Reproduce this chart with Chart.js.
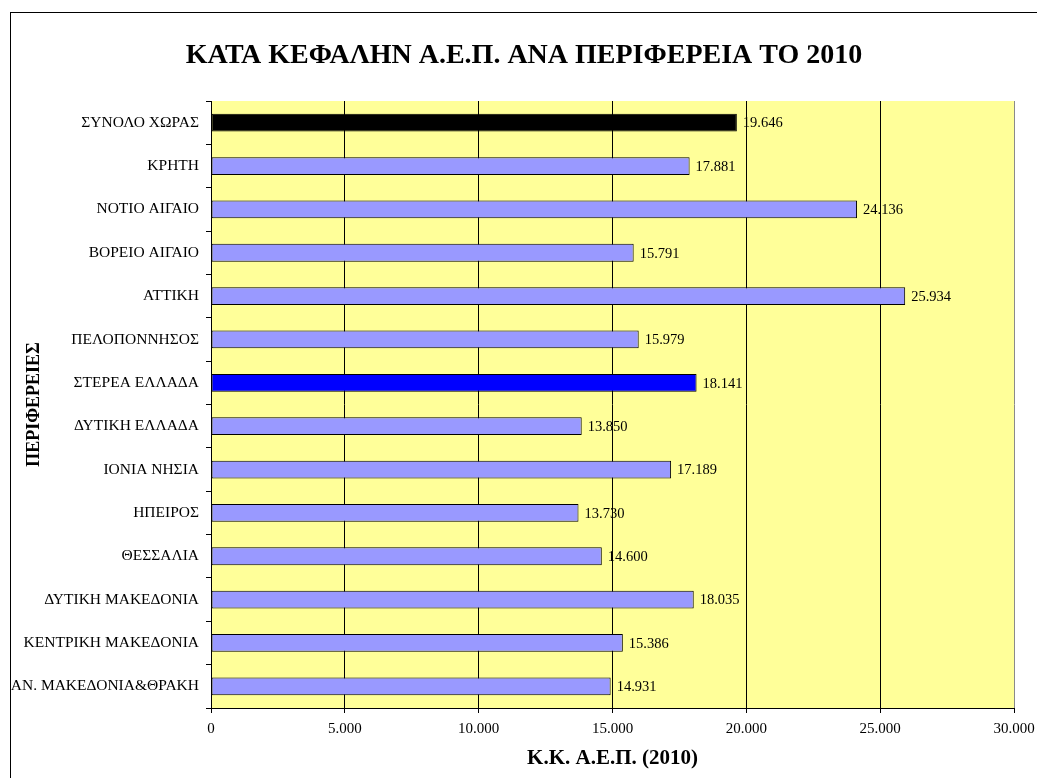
<!DOCTYPE html>
<html>
<head>
<meta charset="utf-8">
<script src="https://cdn.jsdelivr.net/npm/chart.js@4.4.1/dist/chart.umd.min.js"></script>
<style>
html,body{margin:0;padding:0;background:#fff;}
canvas{display:block;}
</style>
</head>
<body>
<canvas id="c" width="1037" height="778"></canvas>
<script>
const chartTitle = 'ΚΑΤΑ ΚΕΦΑΛΗΝ Α.Ε.Π. ΑΝΑ ΠΕΡΙΦΕΡΕΙΑ ΤΟ 2010';
const xAxisTitle = 'Κ.Κ. Α.Ε.Π. (2010)';
const yAxisTitle = 'ΠΕΡΙΦΕΡΕΙΕΣ';
const categories = [
  'ΣΥΝΟΛΟ ΧΩΡΑΣ', 'ΚΡΗΤΗ', 'ΝΟΤΙΟ ΑΙΓΑΙΟ', 'ΒΟΡΕΙΟ ΑΙΓΑΙΟ', 'ΑΤΤΙΚΗ',
  'ΠΕΛΟΠΟΝΝΗΣΟΣ', 'ΣΤΕΡΕΑ ΕΛΛΑΔΑ', 'ΔΥΤΙΚΗ ΕΛΛΑΔΑ', 'ΙΟΝΙΑ ΝΗΣΙΑ', 'ΗΠΕΙΡΟΣ',
  'ΘΕΣΣΑΛΙΑ', 'ΔΥΤΙΚΗ ΜΑΚΕΔΟΝΙΑ', 'ΚΕΝΤΡΙΚΗ ΜΑΚΕΔΟΝΙΑ', 'ΑΝ. ΜΑΚΕΔΟΝΙΑ&ΘΡΑΚΗ'
];
const gdpPerCapita = [19646, 17881, 24136, 15791, 25934, 15979, 18141, 13850, 17189, 13730, 14600, 18035, 15386, 14931];
const xMin = 0, xMax = 30000, xStep = 5000;

const SERIF = '"Liberation Serif", "Times New Roman", serif';
const fmt = v => String(Math.round(v)).replace(/\B(?=(\d{3})+(?!\d))/g, '.');

const barColors = categories.map(c =>
  c === 'ΣΥΝΟΛΟ ΧΩΡΑΣ' ? '#000000' : (c === 'ΣΤΕΡΕΑ ΕΛΛΑΔΑ' ? '#0000FF' : '#9999FF'));

const backgroundPlugin = {
  id: 'bg',
  beforeDraw(chart) {
    const ctx = chart.ctx, a = chart.chartArea;
    ctx.save();
    ctx.fillStyle = '#ffffff';
    ctx.fillRect(0, 0, chart.width, chart.height);
    ctx.strokeStyle = '#000000';
    ctx.lineWidth = 1;
    ctx.strokeRect(10.5, 12.5, chart.width + 10, chart.height + 10);
    ctx.fillStyle = '#FFFF99';
    ctx.fillRect(a.left, a.top, a.right - a.left, a.bottom - a.top);
    ctx.restore();
  },
  afterDraw(chart) {
    const ctx = chart.ctx;
    ctx.save();
    ctx.font = 'bold 28px ' + SERIF;
    ctx.fillStyle = '#000';
    ctx.textAlign = 'center';
    ctx.textBaseline = 'middle';
    ctx.fillText(chartTitle, 524, 56);
    ctx.restore();
  }
};

const labelPlugin = {
  id: 'valueLabels',
  afterDatasetsDraw(chart) {
    const ctx = chart.ctx;
    const meta = chart.getDatasetMeta(0);
    ctx.save();
    ctx.font = '14.5px ' + SERIF;
    ctx.fillStyle = '#000';
    ctx.textAlign = 'left';
    ctx.textBaseline = 'middle';
    meta.data.forEach((bar, i) => {
      ctx.fillText(fmt(gdpPerCapita[i]), bar.x + 6, bar.y + 1);
    });
    ctx.restore();
  }
};

new Chart(document.getElementById('c'), {
  type: 'bar',
  data: {
    labels: categories,
    datasets: [{
      data: gdpPerCapita,
      backgroundColor: barColors,
      borderColor: '#000000',
      borderWidth: 1,
      borderSkipped: false,
      barPercentage: 0.41,
      categoryPercentage: 1.0
    }]
  },
  options: {
    indexAxis: 'y',
    responsive: false,
    animation: false,
    devicePixelRatio: 1,
    layout: { padding: { left: 0, right: 23, top: 101, bottom: 0 } },
    plugins: {
      legend: { display: false },
      title: { display: false },
      tooltip: { enabled: false }
    },
    scales: {
      x: {
        type: 'linear',
        min: xMin, max: xMax,
        afterFit(scale) { scale.height = 70; scale.paddingLeft = 0; scale.paddingRight = 0; },
        ticks: {
          stepSize: xStep,
          color: '#000',
          padding: 7,
          maxRotation: 0,
          font: { family: SERIF, size: 15 },
          callback: v => fmt(v)
        },
        grid: {
          color: ctx => (ctx.tick && ctx.tick.value === xMax) ? '#8a8a8a' : '#000000',
          lineWidth: 1,
          tickColor: '#000000',
          tickLength: 5,
          drawTicks: true
        },
        border: { display: true, color: '#000000', width: 1 },
        title: {
          display: true,
          text: xAxisTitle,
          color: '#000',
          font: { family: SERIF, size: 21, weight: 'bold' },
          padding: { top: 0, bottom: 7 }
        }
      },
      y: {
        afterFit(scale) { scale.width = 211; scale.paddingTop = 0; scale.paddingBottom = 0; },
        ticks: {
          color: '#000',
          padding: 7,
          font: { family: SERIF, size: 15.5 }
        },
        grid: {
          offset: true,
          drawOnChartArea: false,
          color: '#000000',
          tickColor: '#000000',
          tickLength: 5
        },
        border: { display: true, color: '#000000', width: 1 },
        title: {
          display: true,
          text: yAxisTitle,
          color: '#000',
          font: { family: SERIF, size: 18, weight: 'bold' },
          padding: { top: 24, bottom: 0 }
        }
      }
    }
  },
  plugins: [backgroundPlugin, labelPlugin]
});
</script>
</body>
</html>
